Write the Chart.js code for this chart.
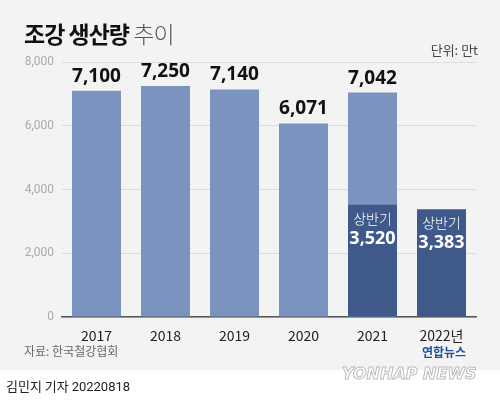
<!DOCTYPE html>
<html><head><meta charset="utf-8">
<script src="https://cdn.jsdelivr.net/npm/chart.js@4"></script>
<style>
body{margin:0;width:500px;height:401px;background:#fff;font-family:"Noto Sans CJK KR","Noto Sans",sans-serif;position:relative;overflow:hidden}
#bg{position:absolute;left:0;top:0;width:500px;height:370px;background:#f3f3f3}
#wrap{position:absolute;left:0;top:0;width:500px;height:370px}
.t{position:absolute;white-space:nowrap}
</style></head><body>
<div id="bg"></div>
<div id="wrap"><canvas id="c"></canvas></div>
<div class="t" style="left:24px;top:16px;font-size:23px;font-weight:700;color:#111;letter-spacing:-1px">조강 생산량 <span style="font-weight:300;color:#555">추이</span></div>
<div class="t" style="right:22px;top:40px;font-size:13px;color:#444">단위: 만t</div>
<div class="t" style="left:24px;top:342px;font-size:12px;color:#666">자료: 한국철강협회</div>
<div class="t" style="left:6px;top:376px;font-size:13px;color:#222">김민지 기자 <span style="font-family:Roboto">20220818</span></div>
<div class="t" style="left:422px;top:343px;font-size:12px;font-weight:700;color:#1f4f9c">연합뉴스</div>
<div class="t" style="left:342px;top:364px;font-size:16px;font-weight:900;font-style:italic;color:#fff;-webkit-text-stroke:1px #bbb;font-family:'DejaVu Sans'">YONHAP NEWS</div>
<script>
// 데이터
const years = ["2017", "2018", "2019", "2020", "2021", "2022년"];
const annual = [7100, 7250, 7140, 6071, 7042, null];
const firstHalf = [null, null, null, null, 3520, 3383];
const yTicks = [0, 2000, 4000, 6000, 8000];

const fmt = (v) => v.toLocaleString("en-US");

const labelPlugin = {
  id: "labels",
  afterDatasetsDraw(chart) {
    const ctx = chart.ctx;
    ctx.save();
    ctx.textAlign = "center";
    chart.getDatasetMeta(0).data.forEach((bar, i) => {
      if (annual[i] == null) return;
      ctx.fillStyle = "#111";
      ctx.font = "bold 19px 'Noto Sans', sans-serif";
      ctx.fillText(fmt(annual[i]), bar.x, bar.y - 9);
    });
    chart.getDatasetMeta(1).data.forEach((bar, i) => {
      if (firstHalf[i] == null) return;
      ctx.fillStyle = "#fff";
      ctx.font = "300 14px 'Noto Sans CJK KR', sans-serif";
      ctx.fillText("상반기", bar.x, bar.y + 19);
      ctx.font = "bold 18px 'Noto Sans', sans-serif";
      ctx.fillText(fmt(firstHalf[i]), bar.x, bar.y + 39);
    });
    ctx.restore();
  },
};

new Chart(document.getElementById("c"), {
  type: "bar",
  data: {
    labels: years,
    datasets: [
      { data: annual, backgroundColor: "#7b93bf", order: 2 },
      { data: firstHalf, backgroundColor: "#3f5a8a", order: 1 },
    ],
  },
  options: {
    responsive: true,
    maintainAspectRatio: false,
    animation: false,
    events: [],
    datasets: { bar: { grouped: false, barPercentage: 0.71, categoryPercentage: 1 } },
    layout: { padding: { top: 62, right: 24, left: 0, bottom: 0 } },
    plugins: { legend: { display: false }, tooltip: { enabled: false } },
    scales: {
      x: {
        grid: { display: false },
        border: { color: "#555", width: 1.5 },
        ticks: { color: "#222", font: { size: 14, family: "'Noto Sans CJK KR', sans-serif" }, padding: 2 },
        afterFit: (s) => { s.height = 53; },
      },
      y: {
        min: 0,
        max: 8000,
        afterBuildTicks: (s) => { s.ticks = yTicks.map((v) => ({ value: v })); },
        grid: { color: "#dcdcdc", drawTicks: false },
        border: { display: false },
        ticks: { color: "#aaa", font: { size: 12, family: "Roboto" }, padding: 8, callback: (v) => fmt(v) },
        afterFit: (s) => { s.width = 62; },
      },
    },
  },
  plugins: [labelPlugin],
});
</script>
</body></html>
